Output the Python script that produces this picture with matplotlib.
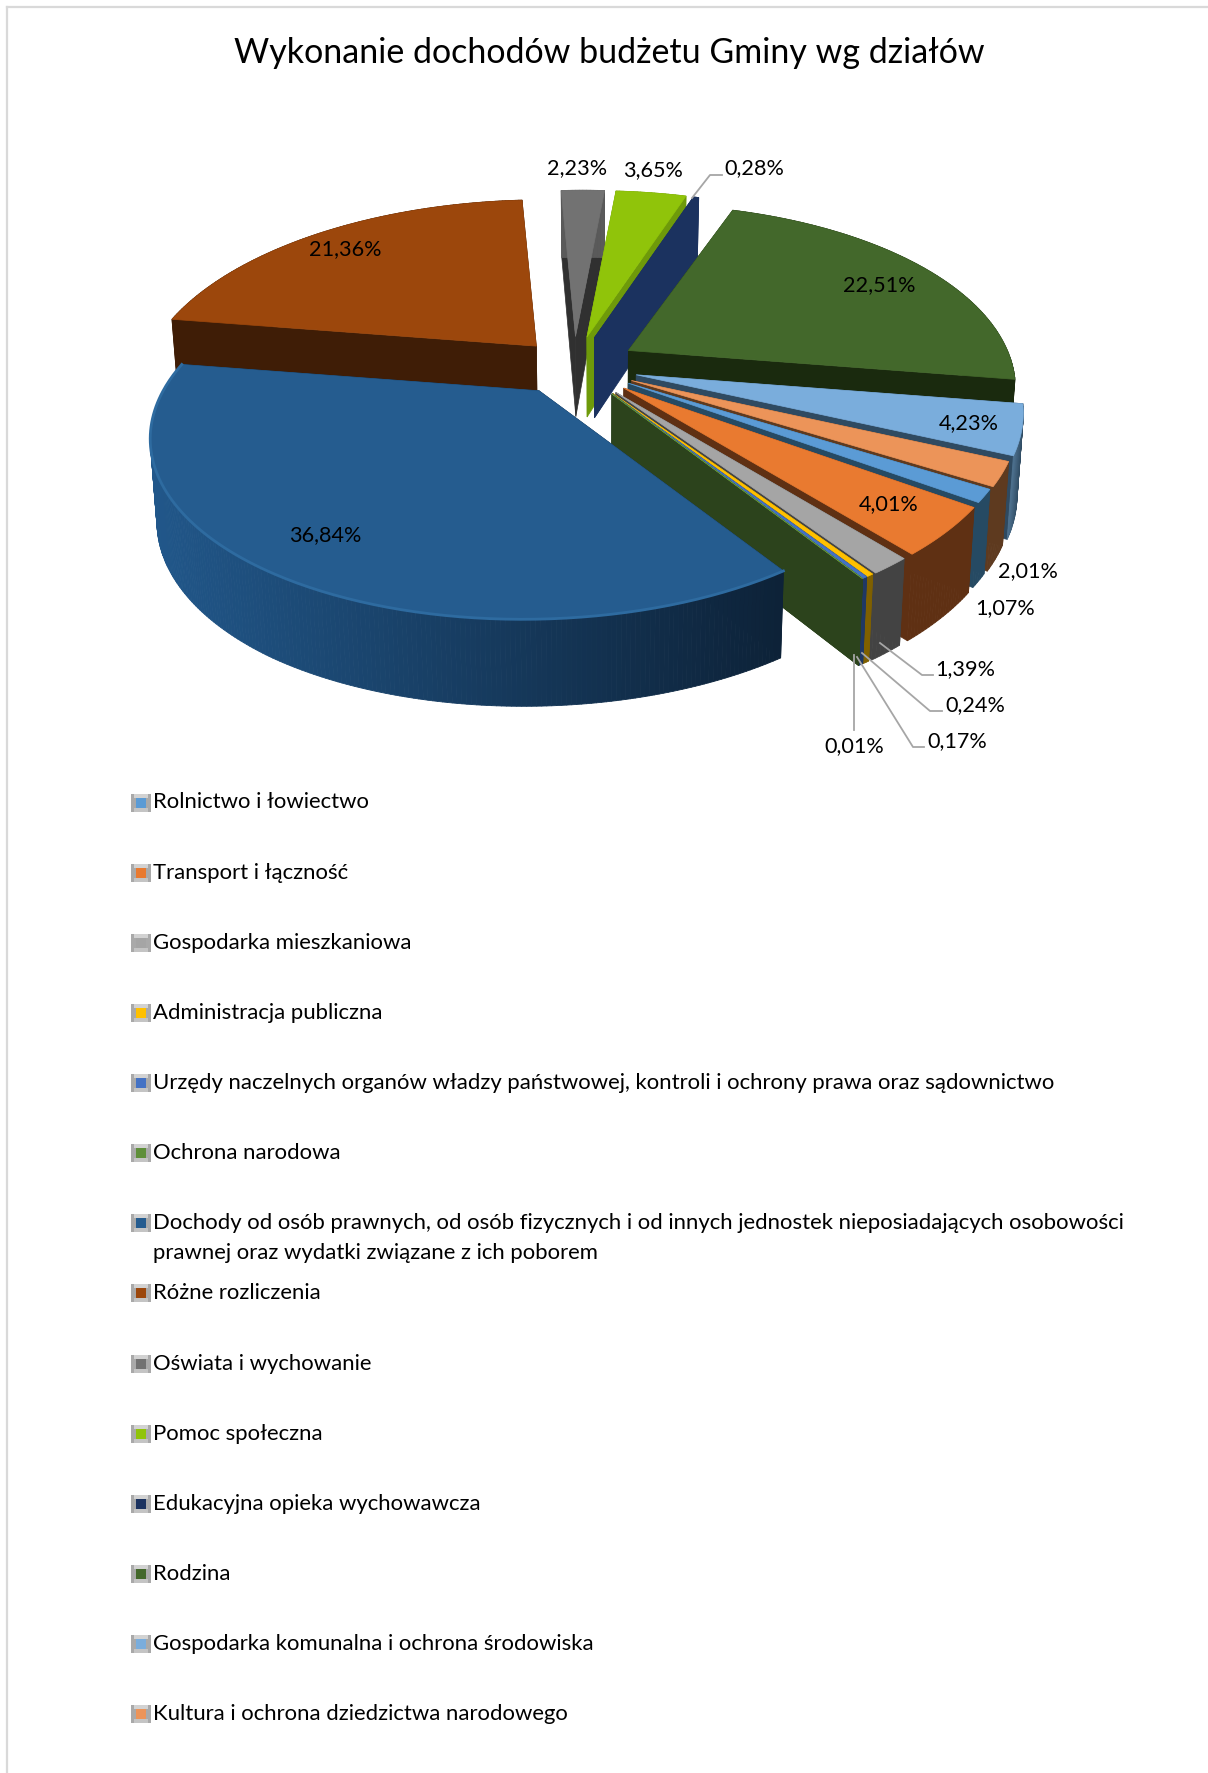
import matplotlib
matplotlib.use('Agg')
import matplotlib.pyplot as plt
import numpy as np
from matplotlib.collections import PolyCollection
from matplotlib.colors import to_rgb
from matplotlib.patches import Rectangle

plt.rcParams['font.family'] = ['Lato', 'DejaVu Sans']

title = 'Wykonanie dochodów budżetu Gminy wg działów'
categories = ['Rolnictwo i łowiectwo', 'Transport i łączność', 'Gospodarka mieszkaniowa',
              'Administracja publiczna',
              'Urzędy naczelnych organów władzy państwowej, kontroli i ochrony prawa oraz sądownictwo',
              'Ochrona narodowa',
              'Dochody od osób prawnych, od osób fizycznych i od innych jednostek nieposiadających osobowości\nprawnej oraz wydatki związane z ich poborem',
              'Różne rozliczenia', 'Oświata i wychowanie', 'Pomoc społeczna',
              'Edukacyjna opieka wychowawcza', 'Rodzina',
              'Gospodarka komunalna i ochrona środowiska', 'Kultura i ochrona dziedzictwa narodowego']
values = [1.07, 4.01, 1.39, 0.24, 0.17, 0.01, 36.84, 21.36, 2.23, 3.65, 0.28, 22.51, 4.23, 2.01]

top_col = ['#5B9BD5', '#E97A30', '#A5A5A5', '#FFC000', '#4472C4', '#5F8F3A', '#255C8F',
           '#9C470C', '#727272', '#90C40A', '#1B325F', '#43682B', '#7AADDC', '#EC9459']
wall_col = ['#264A63', '#5F3013', '#434343', '#7F6000', '#1F3864', '#2C431C', '#0E2338',
            '#3F1D06', '#303030', '#6E9A0A', '#1B325F', '#1A2A0E', '#2F4A61', '#5E3A1F']
rim_left = ['#264A63', '#5F3013', '#434343', '#7F6000', '#1F3864', '#2C431C', '#21578A',
            '#3F1D06', '#5A5A5A', '#6E9A0A', '#1B325F', '#1A2A0E', '#4F7391', '#5E3A1F']
rim_right = ['#264A63', '#5F3013', '#434343', '#7F6000', '#1F3864', '#2C431C', '#0D2238',
             '#3F1D06', '#5A5A5A', '#6E9A0A', '#1B325F', '#1A2A0E', '#2F4A61', '#5E3A1F']
explode = [0.17, 0.177, 0.18, 0.18, 0.18, 0.18, 0.158, 0.154, 0.17, 0.17, 0.17, 0.168, 0.17, 0.17]
radius = [1, 1, 1, 1, 1, 1, 0.98, 1, 1, 1, 1, 1, 1, 1]

# label text and where it sits, in pixels of the picture
labels = ['1,07%', '4,01%', '1,39%', '0,24%', '0,17%', '0,01%', '36,84%',
          '21,36%', '2,23%', '3,65%', '0,28%', '22,51%', '4,23%', '2,01%']
label_x = [1005, 889, 965, 975, 957, 854, 325, 345, 577, 653, 754, 879, 969, 1028]
label_y = [608, 504, 669, 705, 741, 746, 535, 249, 168, 170, 168, 285, 423, 571]

# view of the pie: plane -> screen with a bit of perspective
CX, CY = 574, 366
AX, AY, PX, BY, K, KU = 375, 28, -70, 178, 0.23, 0.03
first_angle = 22.46


def project(u, v):
    w = 1 - K * v - KU * u
    return (AX * u + PX * v) / w, (AY * u + BY * v) / w


def drop(x, y):
    # the lower face of the pie for a point of the upper face
    d = np.interp(y, [192, 337, 570], [67, 80, 87])
    return x - 0.015 * (x - 600), y + d


fig = plt.figure(figsize=(12.08, 17.73), dpi=100)
ax = fig.add_axes([0, 0, 1, 1])
ax.set_xlim(0, 1208)
ax.set_ylim(1773, 0)
ax.axis('off')

# frame of the chart
ax.plot([7, 7], [1773, 7], color='#D9D9D9', lw=1.6, solid_capstyle='projecting')
ax.plot([7, 1208], [7, 7], color='#D9D9D9', lw=1.6, solid_capstyle='projecting')

ax.text(609, 53, title, ha='center', va='center', fontsize=24.5, color='black')

starts = first_angle + 3.6 * np.concatenate([[0], np.cumsum(values)[:-1]])
ends = starts + 3.6 * np.array(values)

# back slices first
order = [7, 8, 9, 10, 11, 12, 13, 0, 1, 2, 3, 4, 5, 6]
for z, i in enumerate(order):
    t = np.radians(np.linspace(starts[i], ends[i], max(int(values[i] * 6), 3)))
    mid = np.radians((starts[i] + ends[i]) / 2)
    ox, oy = project(explode[i] * np.cos(mid), explode[i] * np.sin(mid))
    ax0, ay0 = CX + ox, CY + oy
    px, py = project(radius[i] * np.cos(t), radius[i] * np.sin(t))
    rx, ry = ax0 + px, ay0 + py
    bx, by = drop(rx, ry)
    b0x, b0y = drop(ax0, ay0)

    # both cut faces
    for k in (0, -1):
        ax.fill([ax0, rx[k], bx[k], b0x], [ay0, ry[k], by[k], b0y],
                color=wall_col[i], lw=0.5, zorder=2 + z * 0.1)

    # outer wall, shaded from left to right
    c0, c1 = np.array(to_rgb(rim_left[i])), np.array(to_rgb(rim_right[i]))
    quads, cols = [], []
    for j in range(len(t) - 1):
        quads.append([(rx[j], ry[j]), (rx[j + 1], ry[j + 1]), (bx[j + 1], by[j + 1]), (bx[j], by[j])])
        f = np.clip((rx[j] - rx.min()) / max(rx.max() - rx.min(), 1), 0, 1)
        cols.append(c0 + (c1 - c0) * f)
    ax.add_collection(PolyCollection(quads, facecolors=cols, edgecolors=cols, linewidths=0.6,
                                     zorder=2 + z * 0.1 + 0.01))

    ax.fill(np.r_[ax0, rx], np.r_[ay0, ry], color=top_col[i], lw=0.5, zorder=2 + z * 0.1 + 0.02)
    if i == 6:
        ax.plot(rx, ry, color='#2E6BA0', lw=2, zorder=2 + z * 0.1 + 0.03)

# leader lines
leader_x = [[692, 710, 722], [880, 922, 933], [862, 930, 942], [857, 913, 924], [854, 854]]
leader_y = [[198, 175, 175], [643, 675, 675], [653, 711, 711], [657, 747, 747], [655, 730]]
for lx, ly in zip(leader_x, leader_y):
    ax.plot(lx, ly, color='#A6A6A6', lw=1.3, zorder=5)

for s, x, y in zip(labels, label_x, label_y):
    ax.text(x, y, s, ha='center', va='center', fontsize=15.6, color='black', zorder=6)

# legend
for i, name in enumerate(categories):
    y = 802.5 + 70.13 * i
    ax.add_patch(Rectangle((131, y - 9), 20, 18, fc='#A9A9A9', ec='none'))
    ax.add_patch(Rectangle((134, y - 9), 14, 4, fc='#D2D2D2', ec='none'))
    ax.add_patch(Rectangle((134, y + 5), 14, 4, fc='#C4C4C4', ec='none'))
    ax.add_patch(Rectangle((136, y - 5), 10, 10, fc=top_col[i], ec='none'))
    for n, line in enumerate(name.split('\n')):
        ax.text(153, y + n * 29.5, line, ha='left', va='center', fontsize=15.95, color='black')

fig.savefig('out.png', dpi=100)
